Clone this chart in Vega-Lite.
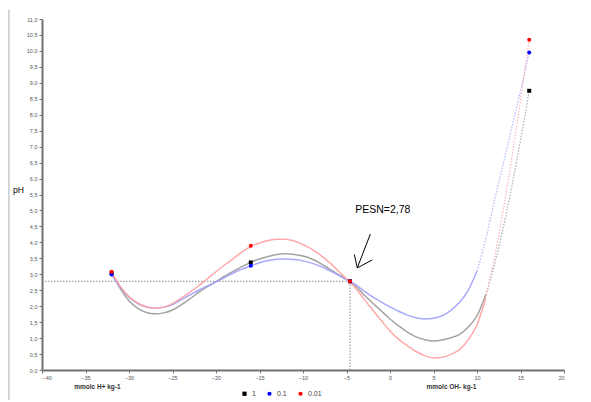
{
  "$schema": "https://vega.github.io/schema/vega-lite/v6.json",
  "autosize": {"type": "none"},
  "width": 522,
  "height": 351,
  "padding": {"left": 42, "top": 19, "right": 27, "bottom": 32},
  "background": "white",
  "config": {
    "font": "Liberation Sans",
    "view": {"stroke": null},
    "axis": {"grid": false, "domainColor": "#707070", "domainWidth": 2, "tickColor": "#707070", "tickSize": 3, "labelFontSize": 5.5, "labelColor": "#555555", "title": null, "labelOverlap": false},
    "legend": {"labelFontSize": 7, "labelColor": "#444444", "symbolSize": 18, "columnPadding": 10, "labelOffset": 4}
  },
  "datasets": {
    "curves": [
      {"x": -32, "pH": 3.04, "series": "1"}, {"x": -31, "pH": 2.55, "series": "1"}, {"x": -30, "pH": 2.17, "series": "1"}, {"x": -29, "pH": 1.93, "series": "1"}, {"x": -28, "pH": 1.8, "series": "1"}, {"x": -27, "pH": 1.76, "series": "1"}, {"x": -26, "pH": 1.79, "series": "1"}, {"x": -25, "pH": 1.88, "series": "1"}, {"x": -24, "pH": 2.04, "series": "1"}, {"x": -23, "pH": 2.23, "series": "1"}, {"x": -22, "pH": 2.43, "series": "1"}, {"x": -21, "pH": 2.61, "series": "1"}, {"x": -20, "pH": 2.77, "series": "1"}, {"x": -19, "pH": 2.94, "series": "1"}, {"x": -18, "pH": 3.1, "series": "1"}, {"x": -17, "pH": 3.24, "series": "1"}, {"x": -16, "pH": 3.38, "series": "1"}, {"x": -15, "pH": 3.48, "series": "1"}, {"x": -14, "pH": 3.56, "series": "1"}, {"x": -13, "pH": 3.62, "series": "1"}, {"x": -12, "pH": 3.64, "series": "1"}, {"x": -11, "pH": 3.62, "series": "1"}, {"x": -10, "pH": 3.57, "series": "1"}, {"x": -9, "pH": 3.48, "series": "1"}, {"x": -8, "pH": 3.34, "series": "1"}, {"x": -7, "pH": 3.17, "series": "1"}, {"x": -6, "pH": 3.0, "series": "1"}, {"x": -5, "pH": 2.84, "series": "1"}, {"x": -4, "pH": 2.64, "series": "1"}, {"x": -3, "pH": 2.36, "series": "1"}, {"x": -2, "pH": 2.1, "series": "1"}, {"x": -1, "pH": 1.85, "series": "1"}, {"x": 0, "pH": 1.6, "series": "1"}, {"x": 1, "pH": 1.38, "series": "1"}, {"x": 2, "pH": 1.19, "series": "1"}, {"x": 3, "pH": 1.04, "series": "1"}, {"x": 4, "pH": 0.95, "series": "1"}, {"x": 5, "pH": 0.91, "series": "1"}, {"x": 6, "pH": 0.94, "series": "1"}, {"x": 7, "pH": 1.01, "series": "1"}, {"x": 8, "pH": 1.12, "series": "1"}, {"x": 9, "pH": 1.35, "series": "1"}, {"x": 10, "pH": 1.7, "series": "1"}, {"x": 11, "pH": 2.35, "series": "1"}, {"x": 12, "pH": 3.3, "series": "1"}, {"x": 13, "pH": 4.45, "series": "1"}, {"x": 14, "pH": 5.75, "series": "1"}, {"x": 15, "pH": 7.2, "series": "1"}, {"x": 16, "pH": 8.75, "series": "1"},
      {"x": -32, "pH": 2.98, "series": "0.1"}, {"x": -31, "pH": 2.6, "series": "0.1"}, {"x": -30, "pH": 2.28, "series": "0.1"}, {"x": -29, "pH": 2.08, "series": "0.1"}, {"x": -28, "pH": 1.97, "series": "0.1"}, {"x": -27, "pH": 1.94, "series": "0.1"}, {"x": -26, "pH": 1.97, "series": "0.1"}, {"x": -25, "pH": 2.05, "series": "0.1"}, {"x": -24, "pH": 2.2, "series": "0.1"}, {"x": -23, "pH": 2.35, "series": "0.1"}, {"x": -22, "pH": 2.5, "series": "0.1"}, {"x": -21, "pH": 2.63, "series": "0.1"}, {"x": -20, "pH": 2.76, "series": "0.1"}, {"x": -19, "pH": 2.9, "series": "0.1"}, {"x": -18, "pH": 3.04, "series": "0.1"}, {"x": -17, "pH": 3.16, "series": "0.1"}, {"x": -16, "pH": 3.26, "series": "0.1"}, {"x": -15, "pH": 3.36, "series": "0.1"}, {"x": -14, "pH": 3.43, "series": "0.1"}, {"x": -13, "pH": 3.47, "series": "0.1"}, {"x": -12, "pH": 3.48, "series": "0.1"}, {"x": -11, "pH": 3.46, "series": "0.1"}, {"x": -10, "pH": 3.42, "series": "0.1"}, {"x": -9, "pH": 3.35, "series": "0.1"}, {"x": -8, "pH": 3.25, "series": "0.1"}, {"x": -7, "pH": 3.12, "series": "0.1"}, {"x": -6, "pH": 2.98, "series": "0.1"}, {"x": -5, "pH": 2.83, "series": "0.1"}, {"x": -4, "pH": 2.68, "series": "0.1"}, {"x": -3, "pH": 2.48, "series": "0.1"}, {"x": -2, "pH": 2.29, "series": "0.1"}, {"x": -1, "pH": 2.13, "series": "0.1"}, {"x": 0, "pH": 1.98, "series": "0.1"}, {"x": 1, "pH": 1.84, "series": "0.1"}, {"x": 2, "pH": 1.72, "series": "0.1"}, {"x": 3, "pH": 1.64, "series": "0.1"}, {"x": 4, "pH": 1.6, "series": "0.1"}, {"x": 5, "pH": 1.62, "series": "0.1"}, {"x": 6, "pH": 1.7, "series": "0.1"}, {"x": 7, "pH": 1.87, "series": "0.1"}, {"x": 8, "pH": 2.12, "series": "0.1"}, {"x": 9, "pH": 2.5, "series": "0.1"}, {"x": 10, "pH": 3.1, "series": "0.1"}, {"x": 11, "pH": 4.1, "series": "0.1"}, {"x": 12, "pH": 5.3, "series": "0.1"}, {"x": 13, "pH": 6.45, "series": "0.1"}, {"x": 14, "pH": 7.6, "series": "0.1"}, {"x": 15, "pH": 8.75, "series": "0.1"}, {"x": 16, "pH": 9.95, "series": "0.1"},
      {"x": -32, "pH": 3.07, "series": "0.01"}, {"x": -31, "pH": 2.62, "series": "0.01"}, {"x": -30, "pH": 2.3, "series": "0.01"}, {"x": -29, "pH": 2.1, "series": "0.01"}, {"x": -28, "pH": 1.98, "series": "0.01"}, {"x": -27, "pH": 1.94, "series": "0.01"}, {"x": -26, "pH": 1.97, "series": "0.01"}, {"x": -25, "pH": 2.08, "series": "0.01"}, {"x": -24, "pH": 2.25, "series": "0.01"}, {"x": -23, "pH": 2.44, "series": "0.01"}, {"x": -22, "pH": 2.64, "series": "0.01"}, {"x": -21, "pH": 2.86, "series": "0.01"}, {"x": -20, "pH": 3.08, "series": "0.01"}, {"x": -19, "pH": 3.29, "series": "0.01"}, {"x": -18, "pH": 3.49, "series": "0.01"}, {"x": -17, "pH": 3.7, "series": "0.01"}, {"x": -16, "pH": 3.87, "series": "0.01"}, {"x": -15, "pH": 3.98, "series": "0.01"}, {"x": -14, "pH": 4.06, "series": "0.01"}, {"x": -13, "pH": 4.1, "series": "0.01"}, {"x": -12, "pH": 4.1, "series": "0.01"}, {"x": -11, "pH": 4.04, "series": "0.01"}, {"x": -10, "pH": 3.93, "series": "0.01"}, {"x": -9, "pH": 3.79, "series": "0.01"}, {"x": -8, "pH": 3.6, "series": "0.01"}, {"x": -7, "pH": 3.38, "series": "0.01"}, {"x": -6, "pH": 3.12, "series": "0.01"}, {"x": -5, "pH": 2.86, "series": "0.01"}, {"x": -4, "pH": 2.58, "series": "0.01"}, {"x": -3, "pH": 2.23, "series": "0.01"}, {"x": -2, "pH": 1.88, "series": "0.01"}, {"x": -1, "pH": 1.55, "series": "0.01"}, {"x": 0, "pH": 1.22, "series": "0.01"}, {"x": 1, "pH": 0.96, "series": "0.01"}, {"x": 2, "pH": 0.76, "series": "0.01"}, {"x": 3, "pH": 0.58, "series": "0.01"}, {"x": 4, "pH": 0.45, "series": "0.01"}, {"x": 5, "pH": 0.38, "series": "0.01"}, {"x": 6, "pH": 0.4, "series": "0.01"}, {"x": 7, "pH": 0.49, "series": "0.01"}, {"x": 8, "pH": 0.64, "series": "0.01"}, {"x": 9, "pH": 0.95, "series": "0.01"}, {"x": 10, "pH": 1.42, "series": "0.01"}, {"x": 11, "pH": 2.25, "series": "0.01"}, {"x": 12, "pH": 3.5, "series": "0.01"}, {"x": 13, "pH": 5.0, "series": "0.01"}, {"x": 14, "pH": 6.65, "series": "0.01"}, {"x": 15, "pH": 8.45, "series": "0.01"}, {"x": 16, "pH": 10.35, "series": "0.01"}
    ],
    "points": [
      {"x": -32, "pH": 3.04, "s": "1"}, {"x": -16, "pH": 3.37, "s": "1"}, {"x": -4.6, "pH": 2.78, "s": "1"}, {"x": 16, "pH": 8.75, "s": "1"},
      {"x": -32, "pH": 2.99, "s": "0.1"}, {"x": -16, "pH": 3.27, "s": "0.1"}, {"x": -4.6, "pH": 2.78, "s": "0.1"}, {"x": 16, "pH": 9.95, "s": "0.1"},
      {"x": -32, "pH": 3.08, "s": "0.01"}, {"x": -16, "pH": 3.89, "s": "0.01"}, {"x": -4.6, "pH": 2.78, "s": "0.01"}, {"x": 16, "pH": 10.35, "s": "0.01"}
    ]
  },
  "encoding": {
    "x": {"field": "x", "type": "quantitative", "scale": {"domain": [-40, 20], "nice": false}, "axis": {"values": [-40, -35, -30, -25, -20, -15, -10, -5, 0, 5, 10, 15, 20], "labelOverlap": false}},
    "y": {"field": "pH", "type": "quantitative", "scale": {"domain": [0, 11], "nice": false}, "axis": {"values": [0, 0.5, 1, 1.5, 2, 2.5, 3, 3.5, 4, 4.5, 5, 5.5, 6, 6.5, 7, 7.5, 8, 8.5, 9, 9.5, 10, 10.5, 11], "tickCount": 23, "labelOverlap": false, "labelExpr": "replace(format(datum.value, '.1f'), '.', ',')"}}
  },
  "layer": [
    {
      "data": {"values": [{"x": -40, "x2": -4.6, "pH": 2.78}]},
      "mark": {"type": "rule", "color": "#888888", "strokeDash": [1.5, 1.5], "strokeWidth": 1},
      "encoding": {"x2": {"field": "x2"}}
    },
    {
      "data": {"values": [{"x": -4.6, "pH": 0, "pH2": 2.78}]},
      "mark": {"type": "rule", "color": "#888888", "strokeDash": [1.5, 1.5], "strokeWidth": 1},
      "encoding": {"y2": {"field": "pH2"}}
    },
    {
      "data": {"values": [{"x": -43.8, "pH": 11.3, "pH2": -0.95}]},
      "mark": {"type": "rule", "color": "#c8c8c8", "strokeWidth": 1.5, "clip": false},
      "encoding": {"y2": {"field": "pH2"}}
    },
    {
      "data": {"name": "curves"},
      "transform": [{"filter": "datum.x <= (datum.series == '0.1' ? 10 : 11)"}],
      "mark": {"type": "line", "interpolate": "monotone", "strokeWidth": 1.5, "opacity": 0.9},
      "encoding": {
        "detail": {"field": "series", "type": "nominal"},
        "stroke": {"condition": [{"test": "datum.series == '1'", "value": "#999999"}, {"test": "datum.series == '0.1'", "value": "#a0a0ff"}], "value": "#ffa0a0"}
      }
    },
    {
      "data": {"name": "curves"},
      "transform": [{"filter": "datum.x >= (datum.series == '0.1' ? 10 : 11)"}],
      "mark": {"type": "line", "interpolate": "monotone", "strokeWidth": 1.2, "strokeDash": [1.5, 1.5], "opacity": 0.8},
      "encoding": {
        "detail": {"field": "series", "type": "nominal"},
        "stroke": {"condition": [{"test": "datum.series == '1'", "value": "#999999"}, {"test": "datum.series == '0.1'", "value": "#a0a0ff"}], "value": "#ffa0a0"}
      }
    },
    {
      "data": {"name": "points"},
      "mark": {"type": "point", "filled": true, "opacity": 1, "size": 16},
      "encoding": {
        "color": {"field": "s", "type": "nominal", "sort": null, "scale": {"domain": ["1", "0.1", "0.01"], "range": ["#000000", "#0000ff", "#ff0000"]},
          "legend": {"orient": "none", "legendX": 199, "legendY": 371, "direction": "horizontal", "title": null}},
        "shape": {"field": "s", "type": "nominal", "sort": null, "scale": {"domain": ["1", "0.1", "0.01"], "range": ["square", "circle", "circle"]},
          "legend": {"orient": "none", "legendX": 199, "legendY": 371, "direction": "horizontal", "title": null}}
      }
    },
    {
      "data": {"values": [{"x": -2.26, "pH": 4.26, "x2": -3.76, "pH2": 3.2}, {"x": -4.1, "pH": 3.62, "x2": -3.76, "pH2": 3.2}, {"x": -2.04, "pH": 3.45, "x2": -3.76, "pH2": 3.2}]},
      "mark": {"type": "rule", "color": "#000000", "strokeWidth": 1},
      "encoding": {"x2": {"field": "x2"}, "y2": {"field": "pH2"}}
    },
    {
      "data": {"values": [{"x": -4.0, "pH": 5.02, "label": "PESN=2,78"}]},
      "mark": {"type": "text", "align": "left", "baseline": "middle", "fontSize": 10.5, "fill": "#000000"},
      "encoding": {"text": {"field": "label"}}
    },
    {
      "data": {"values": [{"x": -36.3, "pH": -0.52, "label": "mmolc H+ kg-1"}, {"x": 4.2, "pH": -0.52, "label": "mmolc OH- kg-1"}]},
      "mark": {"type": "text", "align": "left", "baseline": "middle", "fontSize": 6.5, "fontWeight": "bold", "fill": "#333333", "clip": false},
      "encoding": {"text": {"field": "label"}}
    },
    {
      "data": {"values": [{"x": -40, "pH": 5.65, "label": "pH"}]},
      "mark": {"type": "text", "align": "left", "baseline": "middle", "dx": -29, "fontSize": 8.5, "fill": "#000000"},
      "encoding": {"text": {"field": "label"}}
    }
  ]
}
